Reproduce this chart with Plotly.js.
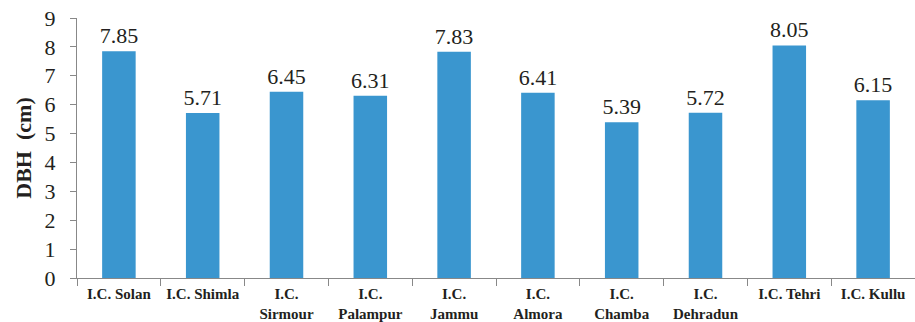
<!DOCTYPE html>
<html>
<head>
<meta charset="utf-8">
<script src="https://cdn.plot.ly/plotly-3.0.1.min.js"></script>
<style>
  html, body { margin: 0; padding: 0; background: #fff; }
  #chart { width: 915px; height: 322px; }
</style>
</head>
<body>
<div id="chart"></div>
<script>
// Mean DBH per collection site
const sites = [
  "I.C. Solan", "I.C. Shimla", "I.C.<br>Sirmour", "I.C.<br>Palampur", "I.C.<br>Jammu",
  "I.C.<br>Almora", "I.C.<br>Chamba", "I.C.<br>Dehradun", "I.C. Tehri", "I.C. Kullu"
];
const dbh = [7.85, 5.71, 6.45, 6.31, 7.83, 6.41, 5.39, 5.72, 8.05, 6.15];
const yTicks = [0, 1, 2, 3, 4, 5, 6, 7, 8, 9];

const serif = "Liberation Serif";

const trace = {
  type: "bar",
  x: sites,
  y: dbh,
  marker: { color: "#3a96cf" },
  text: dbh.map(v => v.toFixed(2)),
  textposition: "outside",
  constraintext: "none",
  textfont: { family: serif, size: 22, color: "#231f20" },
  cliponaxis: false,
  hoverinfo: "x+y"
};

const layout = {
  width: 915,
  height: 322,
  margin: { l: 77, r: 0, t: 18, b: 44 },
  paper_bgcolor: "#fff",
  plot_bgcolor: "#fff",
  bargap: 0.6,
  showlegend: false,
  xaxis: {
    type: "category",
    tickson: "boundaries",
    ticks: "outside",
    ticklen: 7,
    tickcolor: "#888",
    tickangle: 0,
    ticklabelstandoff: 2,
    showline: true,
    linecolor: "#888",
    linewidth: 1,
    showgrid: false,
    tickfont: { family: serif, size: 15, color: "#231f20", weight: "bold" },
    fixedrange: true
  },
  yaxis: {
    range: [0, 9],
    tickvals: yTicks,
    ticks: "outside",
    ticklen: 6,
    tickcolor: "#888",
    ticklabelstandoff: 10,
    showline: true,
    linecolor: "#888",
    linewidth: 1,
    showgrid: false,
    zeroline: false,
    tickfont: { family: serif, size: 22, color: "#231f20" },
    title: {
      text: "<b>DBH  (cm)</b>",
      font: { family: serif, size: 22, color: "#231f20" },
      standoff: 6
    },
    fixedrange: true
  }
};

Plotly.newPlot("chart", [trace], layout, { displayModeBar: false, staticPlot: true });
</script>
</body>
</html>
